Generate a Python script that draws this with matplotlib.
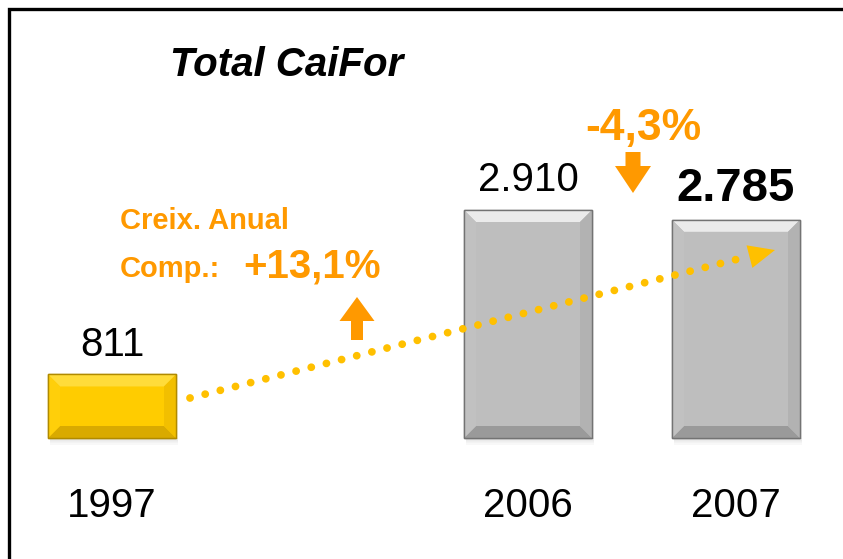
import matplotlib.pyplot as plt
from matplotlib.patches import Polygon, Rectangle, FancyArrow

plt.rcParams["font.family"] = ["Liberation Sans", "DejaVu Sans"]

# data
years = ["1997", "2006", "2007"]
values = [811, 2910, 2785]
value_labels = ["811", "2.910", "2.785"]
value_bold = [False, False, True]
title = "Total CaiFor"
cagr_text = ["Creix. Anual", "Comp.:"]
cagr_value = "+13,1%"
change_value = "-4,3%"

ORANGE = "#FF9900"
TREND = "#FFC000"
gold = dict(face="#FFCC00", top="#FFDC3A", left="#FFCF0A", right="#F2BF00",
            bottom="#D9AA00", edge="#B08A00")
grey = dict(face="#BEBEBE", top="#EBEBEB", left="#C1C1C1", right="#B2B2B2",
            bottom="#9A9A9A", edge="#737373")
palettes = [gold, grey, grey]

# layout (pixels)
W, H = 843, 559
base_px = 438
k = 228 / 2910  # pixels per unit
xs = [112, 528, 736]
bar_w = 128

fig = plt.figure(figsize=(W / 100, H / 100), dpi=100)
ax = fig.add_axes([0, 0, 1, 1])
ax.set_xlim(0, W)
ax.set_ylim((base_px - H) / k, base_px / k)
ax.axis("off")

bars = ax.bar(xs, values, width=bar_w, color=[p["face"] for p in palettes],
              edgecolor=[p["edge"] for p in palettes], linewidth=1, zorder=2)

bx, by = 12, 12 / k
for rect, pal in zip(bars, palettes):
    x0 = rect.get_x()
    x1 = x0 + rect.get_width()
    h = rect.get_height()
    # soft shadow under the bar
    for i in range(5):
        ax.add_patch(Rectangle((x0 + 2, -(i + 1) * 1.3 / k), bar_w, 1.3 / k,
                               fc="#000000", alpha=0.10 - i * 0.018, lw=0, zorder=1))
    faces = [
        ([(x0, h), (x1, h), (x1 - bx, h - by), (x0 + bx, h - by)], pal["top"]),
        ([(x0, 0), (x1, 0), (x1 - bx, by), (x0 + bx, by)], pal["bottom"]),
        ([(x0, 0), (x0, h), (x0 + bx, h - by), (x0 + bx, by)], pal["left"]),
        ([(x1, 0), (x1, h), (x1 - bx, h - by), (x1 - bx, by)], pal["right"]),
    ]
    for pts, c in faces:
        ax.add_patch(Polygon(pts, closed=True, fc=c, lw=0, zorder=3))
    ax.add_patch(Rectangle((x0, 0), bar_w, h, fill=False, ec=pal["edge"], lw=1, zorder=4))

for x, v, lab, b in zip(xs, values, value_labels, value_bold):
    ax.annotate(lab, (x, v), xytext=(0, 13.5), textcoords="offset points",
                ha="center", va="baseline", fontsize=34 if b else 29,
                fontweight="bold" if b else "normal", color="black")

# dotted growth trend with arrow head
ax.plot([190, 750], [(base_px - 398) / k, (base_px - 256) / k], color=TREND,
        lw=5.6, linestyle=(0, (0.01, 2.0)), dash_capstyle="round", zorder=6)
ax.annotate("", xy=(775, (base_px - 250) / k), xytext=(748, (base_px - 257) / k),
            arrowprops=dict(arrowstyle="-|>,head_length=0.95,head_width=0.42",
                            color=TREND, lw=0, mutation_scale=20,
                            shrinkA=0, shrinkB=0), zorder=6)

# overlay in pixel coordinates for text and decorations
deco = fig.add_axes([0, 0, 1, 1], facecolor="none")
deco.set_xlim(0, W)
deco.set_ylim(H, 0)
deco.axis("off")

deco.plot([9, 9, W], [H, 9, 9], color="black", lw=2.4, solid_joinstyle="miter")

deco.text(170, 76, title, fontsize=29, fontweight="bold", fontstyle="italic",
          ha="left", va="baseline")

for x, y in zip(xs, years):
    deco.text(x, 517, y, fontsize=29, ha="center", va="baseline")

deco.text(120, 229, cagr_text[0], fontsize=21, fontweight="bold", color=ORANGE, va="baseline")
deco.text(120, 277, cagr_text[1], fontsize=21, fontweight="bold", color=ORANGE, va="baseline")
deco.text(243, 277, cagr_value, fontsize=29, fontweight="bold", color=ORANGE, va="baseline")
deco.text(585, 140, change_value, fontsize=32, fontweight="bold", color=ORANGE, va="baseline")

deco.add_patch(FancyArrow(357, 340, 0, -43, width=12, head_width=35, head_length=24,
                          length_includes_head=True, color=ORANGE, lw=0))
deco.add_patch(FancyArrow(633, 152, 0, 41, width=15, head_width=36, head_length=27,
                          length_includes_head=True, color=ORANGE, lw=0))

fig.savefig("out.png", dpi=100)
